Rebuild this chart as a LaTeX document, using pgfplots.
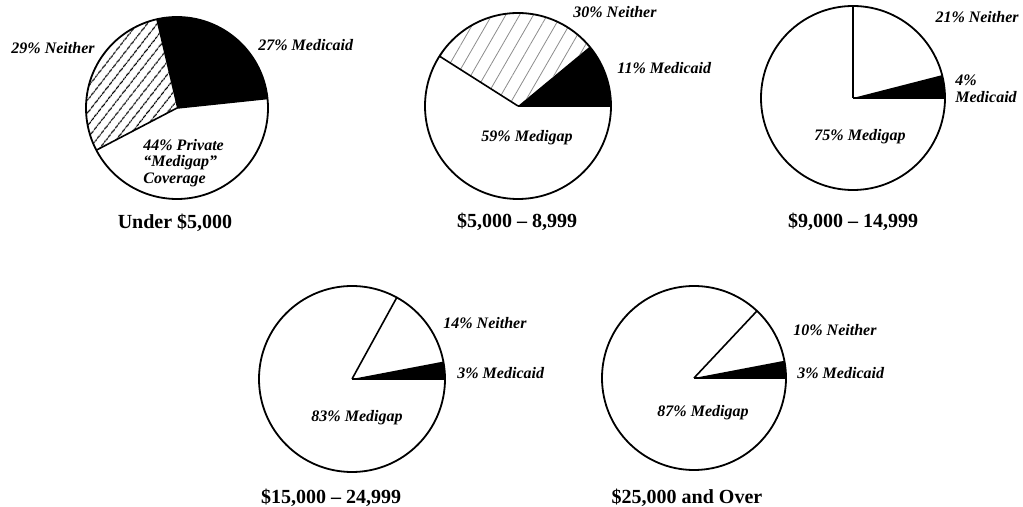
\documentclass[border=0pt]{standalone}
\usepackage{fontspec}
\setmainfont{Liberation Serif}
\usepackage{pgfplots}
\pgfplotsset{compat=1.18}
\usetikzlibrary{patterns.meta}

% one pie: centre x, centre y, radius (px), start angle, % Medicaid, % Neither, style of Neither
\newcommand\pie[7]{%
  \fill[black] (axis cs:#1,#2) -- ++(#4:{#3*0.5pt})
    arc[start angle=#4, end angle={#4+3.6*#5}, radius={#3*0.5pt}] -- cycle;
  \path[#7] (axis cs:#1,#2) -- ++({#4+3.6*#5}:{#3*0.5pt})
    arc[start angle={#4+3.6*#5}, end angle={#4+3.6*(#5+#6)}, radius={#3*0.5pt}] -- cycle;
  \draw[line width=0.8pt] (axis cs:#1,#2) -- ++(#4:{#3*0.5pt});
  \draw[line width=0.8pt] (axis cs:#1,#2) -- ++({#4+3.6*(#5+#6)}:{#3*0.5pt});
  \draw[line width=0.9pt] (axis cs:#1,#2) circle[radius={#3*0.5pt}];
}

\begin{document}
\begin{tikzpicture}
\begin{axis}[
    scale only axis, width=511.5pt, height=253.5pt,
    xmin=0, xmax=1023, ymin=0, ymax=507, y dir=reverse,
    hide axis, clip=false,
  ]
  \pie{177}{108}{91}{6}{27}{29}{pattern={Lines[angle=52,distance=4pt,line width=0.6pt]}}
  \pie{518}{106}{93}{0}{11}{30}{pattern={Lines[angle=60,distance=6pt,line width=0.4pt]},pattern color=black!45}
  \pie{853}{98}{92}{0}{4}{21}{}
  \pie{352}{379}{93}{0}{3}{14}{}
  \pie{694}{378}{92}{0}{3}{10}{}

  \begin{scope}[every node/.style={font=\fontsize{8}{8.3}\selectfont\bfseries\itshape, inner sep=0pt}]
    \node[anchor=west] at (axis cs:95,48) [anchor=east] {29\% Neither};
    \node[anchor=west] at (axis cs:258,45) {27\% Medicaid};
    \node[anchor=west, align=left] at (axis cs:143,163) {44\% Private\\``Medigap''\\Coverage};

    \node[anchor=west] at (axis cs:573,12) {30\% Neither};
    \node[anchor=west] at (axis cs:617,68) {11\% Medicaid};
    \node at (axis cs:527,138) {59\% Medigap};

    \node[anchor=east] at (axis cs:1019,17) {21\% Neither};
    \node[anchor=west, align=left] at (axis cs:955,89) {4\%\\Medicaid};
    \node at (axis cs:860,137) {75\% Medigap};

    \node[anchor=west] at (axis cs:443,323) {14\% Neither};
    \node[anchor=west] at (axis cs:457,373) {3\% Medicaid};
    \node at (axis cs:357,418) {83\% Medigap};

    \node[anchor=west] at (axis cs:793,330) {10\% Neither};
    \node[anchor=west] at (axis cs:797,373) {3\% Medicaid};
    \node at (axis cs:703,413) {87\% Medigap};
  \end{scope}

  \begin{scope}[every node/.style={font=\fontsize{10}{11}\selectfont\bfseries}]
    \node at (axis cs:175,223) {Under \$5,000};
    \node at (axis cs:517,222) {\$5,000 -- 8,999};
    \node at (axis cs:853,222) {\$9,000 -- 14,999};
    \node at (axis cs:331,498) {\$15,000 -- 24,999};
    \node at (axis cs:687,498) {\$25,000 and Over};
  \end{scope}
\end{axis}
\pgfresetboundingbox
\path (current axis.south west) rectangle (current axis.north east);
\end{tikzpicture}
\end{document}
